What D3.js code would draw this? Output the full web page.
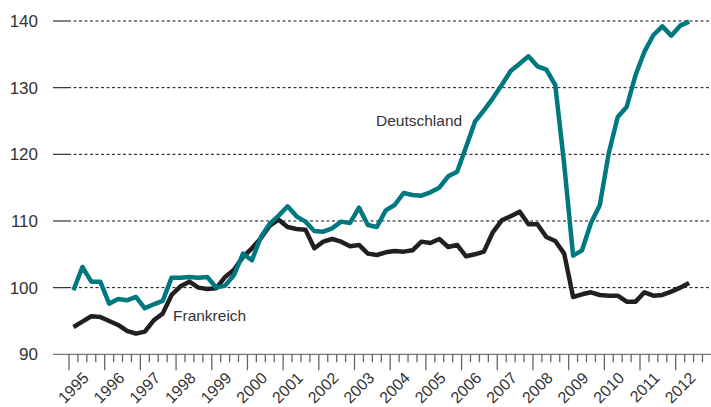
<!DOCTYPE html>
<meta charset="utf-8">
<script src="https://d3js.org/d3.v7.min.js"></script>
<style>
  body { margin: 0; background: #fff; }
  text { font-family: "Liberation Sans", Arial, sans-serif; fill: #333; }
</style>
<div id="chart"></div>
<script>
  // quarterly index, 1995 Q1 .. 2012 Q2
  var years = d3.range(1995, 2013);
  var yTicks = [90, 100, 110, 120, 130, 140];
  var deutschland = [99.6, 103.1, 100.9, 100.9, 97.6, 98.3, 98.1, 98.6, 96.9, 97.5,
    98.0, 101.5, 101.5, 101.6, 101.5, 101.6, 100.0, 100.3, 101.9, 105.1,
    104.1, 107.6, 109.6, 110.8, 112.2, 110.7, 109.9, 108.5, 108.4, 108.9,
    109.9, 109.7, 112.0, 109.4, 109.1, 111.6, 112.4, 114.2, 113.9, 113.8,
    114.3, 115.0, 116.7, 117.4, 121.1, 124.9, 126.6, 128.4, 130.4, 132.5,
    133.6, 134.7, 133.2, 132.7, 130.4, 118.5, 104.8, 105.6, 109.7, 112.4,
    120.2, 125.6, 127.1, 131.9, 135.4, 137.9, 139.2, 137.8, 139.3, 139.9];
  var frankreich = [94.1, 94.9, 95.7, 95.6, 95.0, 94.4, 93.5, 93.1, 93.4, 95.1,
    96.1, 98.9, 100.2, 100.9, 100.0, 99.8, 99.9, 101.6, 102.7, 104.6,
    105.9, 107.4, 109.3, 110.2, 109.1, 108.8, 108.7, 105.9, 106.9, 107.3,
    106.9, 106.2, 106.4, 105.1, 104.9, 105.3, 105.5, 105.4, 105.6, 106.9,
    106.7, 107.3, 106.1, 106.4, 104.7, 105.0, 105.4, 108.3, 110.1, 110.7,
    111.4, 109.5, 109.5, 107.6, 107.0, 105.1, 98.6, 99.0, 99.3, 98.9,
    98.8, 98.8, 97.9, 97.9, 99.3, 98.8, 98.9, 99.4, 100.0, 100.7];

  var width = 711, height = 407;

  var svg = d3.select("#chart")
    .append("svg")
    .attr("width", width)
    .attr("height", height);

  var x = d3.scaleLinear().domain([1995, 2013]).range([69, 711.4]);
  var y = d3.scaleLinear().domain([90, 140]).range([354.3, 21]);

  // quarter midpoints
  var t = function(i) { return 1995 + (i + 0.5) / 4; };

  // horizontal grid (dashed) + short solid ticks at the left
  yTicks.slice(1).forEach(function(v) {
    svg.append("line")
      .attr("x1", 68).attr("x2", width)
      .attr("y1", y(v)).attr("y2", y(v))
      .attr("stroke", "#111").attr("stroke-width", 1)
      .attr("stroke-dasharray", "3,2.5");
    svg.append("line")
      .attr("x1", 53).attr("x2", 68)
      .attr("y1", y(v)).attr("y2", y(v))
      .attr("stroke", "#333").attr("stroke-width", 1.2);
  });

  // y labels
  svg.selectAll(".ylab")
    .data(yTicks)
    .enter().append("text")
    .attr("x", 38)
    .attr("y", function(d) { return y(d); })
    .attr("dy", "0.36em")
    .attr("text-anchor", "end")
    .style("font-size", "17px")
    .text(function(d) { return d; });

  // x axis line
  svg.append("line")
    .attr("x1", 53).attr("x2", width)
    .attr("y1", y(90)).attr("y2", y(90))
    .attr("stroke", "#777").attr("stroke-width", 1.3);

  // quarter ticks
  var qTicks = d3.range(0, 72);
  svg.selectAll(".qt")
    .data(qTicks)
    .enter().append("line")
    .attr("x1", function(d) { return x(1995 + d / 4); })
    .attr("x2", function(d) { return x(1995 + d / 4); })
    .attr("y1", y(90))
    .attr("y2", function(d) { return d % 4 === 0 ? y(90) + 16 : y(90) + 8; })
    .attr("stroke", "#666").attr("stroke-width", 1.3);

  // year labels, rotated
  svg.selectAll(".xlab")
    .data(years)
    .enter().append("text")
    .attr("text-anchor", "end")
    .attr("transform", function(d) {
      return "translate(" + (x(d + 0.5) + 3) + ",379) rotate(-45)";
    })
    .style("font-size", "16px")
    .text(function(d) { return d; });

  var line = d3.line()
    .x(function(d, i) { return x(t(i)); })
    .y(function(d) { return y(d); });

  svg.append("path")
    .datum(frankreich)
    .attr("d", line)
    .attr("fill", "none")
    .attr("stroke", "#231f20")
    .attr("stroke-width", 4.5)
    .attr("stroke-linejoin", "round");

  svg.append("path")
    .datum(deutschland)
    .attr("d", line)
    .attr("fill", "none")
    .attr("stroke", "#00787f")
    .attr("stroke-width", 4.5)
    .attr("stroke-linejoin", "round");

  svg.append("text")
    .attr("x", 376).attr("y", 126)
    .style("font-size", "15.5px")
    .text("Deutschland");

  svg.append("text")
    .attr("x", 173).attr("y", 321)
    .style("font-size", "15.5px")
    .text("Frankreich");
</script>
